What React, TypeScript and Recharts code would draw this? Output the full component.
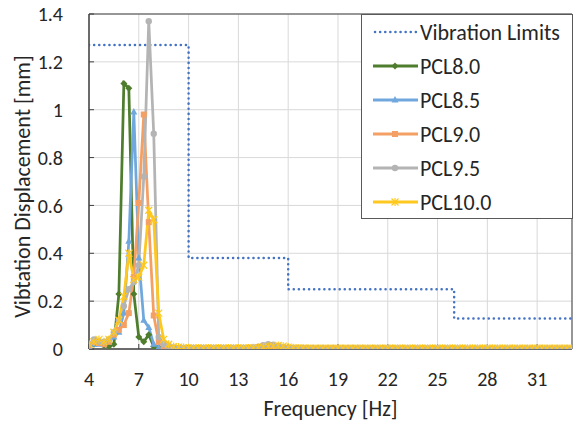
import React from "react";
import {
  LineChart,
  Line,
  XAxis,
  YAxis,
  CartesianGrid,
  ReferenceArea,
  Legend,
} from "recharts";

// frequency steps of the measurement [Hz]
const freq = [
  4.0, 4.3, 4.6, 4.9, 5.2, 5.5, 5.8, 6.1, 6.4, 6.7,
  7.0, 7.3, 7.6, 7.9, 8.2, 8.5, 8.8, 9.1, 9.4, 9.7,
  10.0, 10.3, 10.6, 10.9, 11.2, 11.5, 11.8, 12.1, 12.4, 12.7,
  13.0, 13.3, 13.6, 13.9, 14.2, 14.5, 14.8, 15.1, 15.4, 15.7,
  16.0, 16.3, 16.6, 16.9, 17.2, 17.5, 17.8, 18.1, 18.4, 18.7,
  19.0, 19.3, 19.6, 19.9, 20.2, 20.5, 20.8, 21.1, 21.4, 21.7,
  22.0, 22.3, 22.6, 22.9, 23.2, 23.5, 23.8, 24.1, 24.4, 24.7,
  25.0, 25.3, 25.6, 25.9, 26.2, 26.5, 26.8, 27.1, 27.4, 27.7,
  28.0, 28.3, 28.6, 28.9, 29.2, 29.5, 29.8, 30.1, 30.4, 30.7,
  31.0, 31.3, 31.6, 31.9, 32.2, 32.5, 32.8, 33.1,
];

const pcl80 = [
  0.01, 0.02, 0.03, 0.015, 0.01, 0.02, 0.23, 1.11, 1.09, 0.23,
  0.05, 0.03, 0.06, 0.01, 0.005, 0.004, 0.003, 0.003, 0.002, 0.002,
  0.002, 0.002, 0.002, 0.002, 0.002, 0.002, 0.002, 0.002, 0.002, 0.002,
  0.002, 0.002, 0.003, 0.003, 0.004, 0.005, 0.006, 0.005, 0.004, 0.003,
  0.002, 0.002, 0.002, 0.002, 0.002, 0.002, 0.002, 0.002, 0.002, 0.002,
  0.002, 0.002, 0.002, 0.002, 0.002, 0.002, 0.002, 0.002, 0.002, 0.002,
  0.001, 0.001, 0.001, 0.001, 0.001, 0.001, 0.001, 0.001, 0.001, 0.001,
  0.001, 0.001, 0.001, 0.001, 0.001, 0.001, 0.001, 0.001, 0.001, 0.001,
  0.001, 0.001, 0.001, 0.001, 0.001, 0.001, 0.001, 0.001, 0.001, 0.001,
  0.001, 0.001, 0.001, 0.001, 0.001, 0.001, 0.001, 0.001,
];

const pcl85 = [
  0.01, 0.02, 0.02, 0.02, 0.03, 0.05, 0.07, 0.15, 0.45, 0.99,
  0.38, 0.12, 0.09, 0.02, 0.006, 0.004, 0.003, 0.003, 0.003, 0.002,
  0.002, 0.002, 0.002, 0.002, 0.002, 0.002, 0.002, 0.002, 0.002, 0.002,
  0.002, 0.003, 0.003, 0.004, 0.005, 0.007, 0.008, 0.007, 0.005, 0.004,
  0.003, 0.002, 0.002, 0.002, 0.002, 0.002, 0.002, 0.002, 0.002, 0.002,
  0.002, 0.002, 0.002, 0.002, 0.002, 0.002, 0.002, 0.002, 0.002, 0.002,
  0.002, 0.002, 0.002, 0.002, 0.001, 0.001, 0.001, 0.001, 0.001, 0.001,
  0.001, 0.001, 0.001, 0.001, 0.001, 0.001, 0.001, 0.001, 0.001, 0.001,
  0.001, 0.001, 0.001, 0.001, 0.001, 0.001, 0.001, 0.001, 0.001, 0.001,
  0.001, 0.001, 0.001, 0.001, 0.001, 0.001, 0.001, 0.001,
];

const pcl90 = [
  0.015, 0.03, 0.025, 0.02, 0.03, 0.06, 0.08, 0.1, 0.15, 0.3,
  0.61, 0.98, 0.53, 0.14, 0.03, 0.01, 0.006, 0.004, 0.003, 0.003,
  0.003, 0.003, 0.003, 0.003, 0.003, 0.003, 0.003, 0.003, 0.003, 0.003,
  0.003, 0.004, 0.004, 0.005, 0.008, 0.012, 0.015, 0.013, 0.01, 0.006,
  0.004, 0.003, 0.003, 0.003, 0.002, 0.002, 0.002, 0.002, 0.002, 0.002,
  0.002, 0.002, 0.002, 0.002, 0.002, 0.002, 0.002, 0.002, 0.002, 0.002,
  0.002, 0.002, 0.002, 0.002, 0.002, 0.002, 0.002, 0.002, 0.002, 0.002,
  0.002, 0.002, 0.002, 0.002, 0.001, 0.001, 0.001, 0.001, 0.001, 0.001,
  0.001, 0.001, 0.001, 0.001, 0.001, 0.001, 0.001, 0.001, 0.001, 0.001,
  0.001, 0.001, 0.001, 0.001, 0.001, 0.001, 0.001, 0.001,
];

const pcl95 = [
  0.02, 0.04, 0.03, 0.03, 0.04, 0.07, 0.12, 0.18, 0.25, 0.28,
  0.35, 0.72, 1.37, 0.9, 0.05, 0.02, 0.01, 0.006, 0.004, 0.003,
  0.003, 0.003, 0.003, 0.003, 0.003, 0.003, 0.003, 0.003, 0.003, 0.003,
  0.003, 0.004, 0.005, 0.007, 0.01, 0.016, 0.02, 0.018, 0.012, 0.008,
  0.005, 0.004, 0.003, 0.003, 0.003, 0.002, 0.002, 0.002, 0.002, 0.002,
  0.002, 0.002, 0.002, 0.002, 0.002, 0.002, 0.002, 0.002, 0.002, 0.002,
  0.002, 0.002, 0.002, 0.002, 0.002, 0.002, 0.002, 0.002, 0.002, 0.002,
  0.002, 0.002, 0.002, 0.002, 0.002, 0.002, 0.001, 0.001, 0.001, 0.001,
  0.001, 0.001, 0.001, 0.001, 0.001, 0.001, 0.001, 0.001, 0.001, 0.001,
  0.001, 0.001, 0.001, 0.001, 0.001, 0.001, 0.001, 0.001,
];

const pcl100 = [
  0.02, 0.03, 0.04, 0.03, 0.04, 0.07, 0.12, 0.22, 0.4, 0.29,
  0.3, 0.35, 0.58, 0.54, 0.15, 0.04, 0.02, 0.01, 0.008, 0.006,
  0.005, 0.004, 0.004, 0.004, 0.004, 0.004, 0.004, 0.004, 0.004, 0.004,
  0.004, 0.004, 0.004, 0.005, 0.006, 0.008, 0.01, 0.012, 0.015, 0.012,
  0.008, 0.005, 0.004, 0.004, 0.003, 0.003, 0.003, 0.003, 0.003, 0.003,
  0.003, 0.003, 0.003, 0.003, 0.003, 0.003, 0.003, 0.003, 0.003, 0.003,
  0.003, 0.003, 0.003, 0.003, 0.003, 0.003, 0.003, 0.003, 0.003, 0.003,
  0.003, 0.003, 0.003, 0.003, 0.003, 0.003, 0.003, 0.003, 0.003, 0.003,
  0.003, 0.003, 0.003, 0.003, 0.003, 0.003, 0.003, 0.003, 0.003, 0.003,
  0.003, 0.003, 0.003, 0.003, 0.003, 0.003, 0.003, 0.003,
];

// stepped vibration limit curve
const limitFreq = [4, 10, 10, 16, 16, 26, 26, 33.1];
const limitValue = [1.27, 1.27, 0.38, 0.38, 0.25, 0.25, 0.127, 0.127];

const xTicks = [4, 7, 10, 13, 16, 19, 22, 25, 28, 31];
const yTicks = [0, 0.2, 0.4, 0.6, 0.8, 1, 1.2, 1.4];

const FONT = "Carlito, Calibri, Lato, sans-serif";
const TEXT = "#262626";

type Shape = "diamond" | "triangle" | "square" | "circle" | "star" | "none";

const series: { name: string; values: number[]; color: string; shape: Shape }[] = [
  { name: "PCL8.0", values: pcl80, color: "#4F7D2E", shape: "diamond" },
  { name: "PCL8.5", values: pcl85, color: "#70A8DE", shape: "triangle" },
  { name: "PCL9.0", values: pcl90, color: "#F4A064", shape: "square" },
  { name: "PCL9.5", values: pcl95, color: "#B4B4B4", shape: "circle" },
  { name: "PCL10.0", values: pcl100, color: "#FFC81E", shape: "star" },
];

function marker(shape: Shape, color: string, cx: number, cy: number, key?: any) {
  switch (shape) {
    case "diamond":
      return (
        <path key={key} d={`M${cx},${cy - 3.5}L${cx + 3.5},${cy}L${cx},${cy + 3.5}L${cx - 3.5},${cy}Z`} fill={color} />
      );
    case "triangle":
      return <path key={key} d={`M${cx},${cy - 4}L${cx + 3.5},${cy + 2.5}L${cx - 3.5},${cy + 2.5}Z`} fill={color} />;
    case "square":
      return <rect key={key} x={cx - 3} y={cy - 3} width={6} height={6} fill={color} />;
    case "circle":
      return <circle key={key} cx={cx} cy={cy} r={3.2} fill={color} />;
    case "star":
      return (
        <g key={key} stroke={color} strokeWidth={1.2}>
          <line x1={cx - 3.5} y1={cy - 3.5} x2={cx + 3.5} y2={cy + 3.5} />
          <line x1={cx - 3.5} y1={cy + 3.5} x2={cx + 3.5} y2={cy - 3.5} />
          <line x1={cx} y1={cy - 4} x2={cx} y2={cy + 4} />
        </g>
      );
    default:
      return <g key={key} />;
  }
}

const makeDot = (shape: Shape, color: string) => (props: any) => {
  const { cx, cy, index } = props;
  if (cx == null || cy == null) return <g key={index} />;
  return marker(shape, color, cx, cy, index);
};

function LegendBox() {
  const rows = [
    { name: "Vibration Limits", color: "#4472C4", shape: "none" as Shape, dotted: true },
    ...series.map((s) => ({ name: s.name, color: s.color, shape: s.shape, dotted: false })),
  ];
  return (
    <div
      style={{
        width: 210,
        height: 203,
        border: "1px solid #595959",
        background: "#fff",
        fontFamily: FONT,
        fontSize: 22,
        color: TEXT,
      }}
    >
      {rows.map((r) => (
        <div key={r.name} style={{ height: 34, display: "flex", alignItems: "center" }}>
          <svg width={58} height={14} style={{ flex: "none" }}>
            {r.dotted ? (
              <line x1={13} y1={7} x2={55} y2={7} stroke={r.color} strokeWidth={2.5}
                strokeDasharray="0.1 5" strokeLinecap="round" />
            ) : (
              <line x1={11} y1={7} x2={56} y2={7} stroke={r.color} strokeWidth={3} />
            )}
            {marker(r.shape, r.color, 33, 7)}
          </svg>
          <span style={{ whiteSpace: "nowrap" }}>{r.name}</span>
        </div>
      ))}
    </div>
  );
}

export default function App() {
  const limitData = limitFreq.map((f, i) => ({ f, v: limitValue[i] }));

  return (
    <div style={{ position: "absolute", left: 0, top: 0, width: 581, height: 427, background: "#fff" }}>
      <LineChart width={581} height={427} margin={{ top: 14, right: 9, bottom: 8, left: 0 }}>
        <CartesianGrid stroke="#D9D9D9" strokeWidth={1} />
        <XAxis
          type="number"
          dataKey="f"
          domain={[4, 33.1]}
          ticks={xTicks}
          allowDataOverflow
          height={70}
          axisLine={{ stroke: "#404040" }}
          tickLine={{ stroke: "#404040" }}
          tickSize={-5}
          tickMargin={28}
          tick={{ fill: TEXT, fontSize: 20, fontFamily: FONT }}
          label={{
            value: "Frequency [Hz]",
            position: "insideBottom",
            offset: 3,
            style: { fill: TEXT, fontSize: 22, fontFamily: FONT },
          }}
        />
        <YAxis
          type="number"
          domain={[0, 1.4]}
          ticks={yTicks}
          allowDataOverflow
          width={89}
          axisLine={{ stroke: "#404040" }}
          tickLine={{ stroke: "#404040" }}
          tickSize={-5}
          tickMargin={31}
          tick={{ fill: TEXT, fontSize: 20, fontFamily: FONT }}
          label={{
            value: "Vibtation Displacement [mm]",
            angle: -90,
            position: "insideLeft",
            offset: 22,
            dy: 5,
            style: { fill: TEXT, fontSize: 22, fontFamily: FONT, textAnchor: "middle" },
          }}
        />
        <ReferenceArea x1={4} x2={33.1} y1={0} y2={1.4} fill="none" fillOpacity={0} stroke="#404040" strokeWidth={1} />
        <Line
          data={limitData}
          dataKey="v"
          type="linear"
          stroke="#4472C4"
          strokeWidth={2.5}
          strokeDasharray="0.1 5"
          strokeLinecap="round"
          dot={false}
          activeDot={false}
          isAnimationActive={false}
        />
        {series.map((s) => (
          <Line
            key={s.name}
            data={freq.map((f, i) => ({ f, v: s.values[i] }))}
            dataKey="v"
            type="linear"
            stroke={s.color}
            strokeWidth={2.75}
            dot={makeDot(s.shape, s.color)}
            activeDot={false}
            isAnimationActive={false}
          />
        ))}
        <Legend
          layout="vertical"
          align="center"
          verticalAlign="middle"
          content={() => <LegendBox />}
          wrapperStyle={{ position: "absolute", left: 361, top: 14, width: 212, height: 205 }}
        />
      </LineChart>
    </div>
  );
}
